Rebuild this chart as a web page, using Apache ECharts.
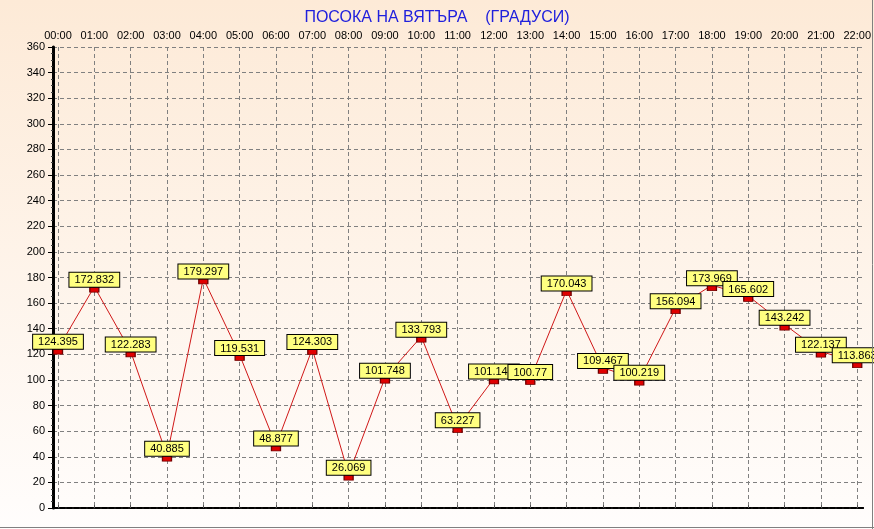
<!DOCTYPE html>
<html><head><meta charset="utf-8">
<script src="https://cdn.jsdelivr.net/npm/echarts@6/dist/echarts.min.js"></script>
<style>html,body{margin:0;padding:0;}#c{width:874px;height:529px;}</style>
</head><body><div id="c"></div>
<script>
var hours = ["00:00","01:00","02:00","03:00","04:00","05:00","06:00","07:00","08:00","09:00","10:00","11:00","12:00","13:00","14:00","15:00","16:00","17:00","18:00","19:00","20:00","21:00","22:00"];
var direction = [124.395,172.832,122.283,40.885,179.297,119.531,48.877,124.303,26.069,101.748,133.793,63.227,101.145,100.77,170.043,109.467,100.219,156.094,173.969,165.602,143.242,122.137,113.863];
var titleText = "ПОСОКА НА ВЯТЪРА    (ГРАДУСИ)";
var yMin = 0, yMax = 360, yStep = 20;

var font = "Liberation Sans, Arial, sans-serif";
var chart = echarts.init(document.getElementById('c'), null, {renderer:'canvas'});
chart.setOption({
  animation: false,
  backgroundColor: {type:'linear', x:0, y:0, x2:0, y2:1, colorStops:[{offset:0,color:'#fdead7'},{offset:1,color:'#fffdfc'}]},
  title: {text: titleText, left: 'center', top: 5, textStyle:{color:'#2020dd', fontSize:16, fontWeight:'normal', fontFamily:font}},
  grid: [
    {left:53, right:9, top:47, bottom:21},
    {left:58, right:14, top:47, bottom:21}
  ],
  xAxis: [
    {gridIndex:0, type:'value', position:'top', min:0, max:1, axisLabel:{show:false}, axisTick:{show:false}, splitLine:{show:false},
     axisLine:{show:true, lineStyle:{color:'#000', width:2, type:[5,2]}}},
    {gridIndex:0, type:'value', position:'bottom', min:0, max:1, axisLabel:{show:false}, axisTick:{show:false}, splitLine:{show:false},
     axisLine:{show:true, lineStyle:{color:'#000', width:2, type:[5,2]}}},
    {gridIndex:1, type:'category', position:'top', data:hours, boundaryGap:false,
     axisLine:{show:false}, axisTick:{show:true, length:3, alignWithLabel:true, lineStyle:{color:'#555'}},
     axisLabel:{color:'#000', fontSize:11, fontFamily:font, margin:6, interval:0},
     splitLine:{show:true, lineStyle:{color:'#808080', type:[4,3], width:1}}}
  ],
  yAxis: [
    {gridIndex:0, type:'value', min:yMin, max:yMax, interval:yStep, position:'left',
     axisLine:{show:true, lineStyle:{color:'#000', width:3}},
     axisTick:{show:true, length:5, lineStyle:{color:'#000'}},
     minorTick:{show:true, splitNumber:4, length:2, lineStyle:{color:'#444'}},
     axisLabel:{color:'#000', fontSize:11, fontFamily:font, margin:8},
     splitLine:{show:true, lineStyle:{color:'#808080', type:[4,3], width:1}}},
    {gridIndex:0, type:'value', min:yMin, max:yMax, interval:yStep, position:'right',
     axisLine:{show:true, lineStyle:{color:'#000', width:2}}, axisTick:{show:false}, axisLabel:{show:false}, splitLine:{show:false}},
    {gridIndex:1, type:'value', min:yMin, max:yMax, interval:yStep, show:false}
  ],
  series: [{
    type:'line', xAxisIndex:2, yAxisIndex:2, data:direction,
    lineStyle:{color:'#d01818', width:1},
    symbol:'rect', symbolSize:[9,5], symbolOffset:[0,3], showAllSymbol:true,
    itemStyle:{color:'#e00000', borderColor:'#700000', borderWidth:1},
    label:{show:true, position:'top', distance:0, color:'#000', fontSize:11, fontFamily:font,
      backgroundColor:'#ffff80', borderColor:'#000', borderWidth:1, padding:[2,5,1,5]},
    labelLayout:{hideOverlap:false}
  }],
  graphic: [
    {type:'line', shape:{x1:872.5, y1:0, x2:872.5, y2:529}, style:{stroke:'#808080', lineWidth:1}, z:100},
    {type:'line', shape:{x1:0, y1:527.5, x2:874, y2:527.5}, style:{stroke:'#808080', lineWidth:1}, z:100}
  ]
});
</script></body></html>
